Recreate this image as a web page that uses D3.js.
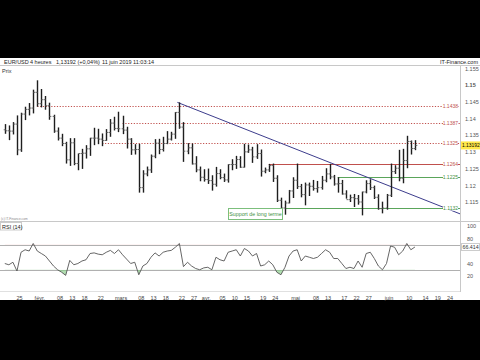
<!DOCTYPE html>
<html>
<head>
<meta charset="utf-8">
<script src="https://cdn.jsdelivr.net/npm/d3@7"></script>
<style>
  body { margin: 0; background: #000; }
  svg { display: block; font-family: "Liberation Sans", Arial, sans-serif; }
</style>
</head>
<body>
<svg id="chart" width="480" height="360"></svg>
<script>
// EUR/USD, one bar per trading day from 21 Jan 2019 to 11 Jun 2019
const opens = [
  1.1366, 1.1363, 1.1362, 1.1383, 1.1306, 1.1413, 1.1427, 1.1431, 1.1478, 1.1444,
  1.1456, 1.1438, 1.1406, 1.1362, 1.1341, 1.1325, 1.1276, 1.1327, 1.1265, 1.1295,
  1.1296, 1.1309, 1.1341, 1.1341, 1.1338, 1.1334, 1.1358, 1.1386, 1.1370, 1.1369,
  1.1365, 1.1338, 1.1306, 1.1307, 1.1193, 1.1234, 1.1246, 1.1287, 1.1326, 1.1307,
  1.1325, 1.1338, 1.1353, 1.1418, 1.1374, 1.1302, 1.1312, 1.1264, 1.1246, 1.1224,
  1.1217, 1.1214, 1.1203, 1.1235, 1.1223, 1.1216, 1.1262, 1.1262, 1.1277, 1.1254,
  1.1300, 1.1306, 1.1285, 1.1295, 1.1242, 1.1246, 1.1259, 1.1221, 1.1155, 1.1132,
  1.1147, 1.1183, 1.1215, 1.1196, 1.1172, 1.1201, 1.1197, 1.1190, 1.1193, 1.1215,
  1.1234, 1.1225, 1.1204, 1.1205, 1.1174, 1.1157, 1.1163, 1.1160, 1.1150, 1.1180,
  1.1205, 1.1193, 1.1164, 1.1130, 1.1132, 1.1170, 1.1241, 1.1251, 1.1221, 1.1274,
  1.1331, 1.1310
];
const highs = [
  1.1383, 1.1379, 1.1389, 1.1409, 1.1417, 1.1435, 1.1446, 1.1486, 1.1514, 1.1488,
  1.1467, 1.1447, 1.1411, 1.1373, 1.1354, 1.1330, 1.1341, 1.1341, 1.1295, 1.1309,
  1.1320, 1.1342, 1.1372, 1.1369, 1.1355, 1.1368, 1.1398, 1.1405, 1.1420, 1.1408,
  1.1375, 1.1341, 1.1323, 1.1324, 1.1245, 1.1256, 1.1292, 1.1338, 1.1339, 1.1345,
  1.1362, 1.1360, 1.1419, 1.1448, 1.1389, 1.1326, 1.1325, 1.1287, 1.1256, 1.1248,
  1.1250, 1.1230, 1.1255, 1.1248, 1.1235, 1.1263, 1.1278, 1.1288, 1.1287, 1.1324,
  1.1322, 1.1315, 1.1323, 1.1307, 1.1253, 1.1264, 1.1265, 1.1230, 1.1163, 1.1154,
  1.1186, 1.1224, 1.1265, 1.1204, 1.1208, 1.1208, 1.1216, 1.1213, 1.1228, 1.1251,
  1.1264, 1.1231, 1.1224, 1.1216, 1.1185, 1.1172, 1.1174, 1.1171, 1.1181, 1.1215,
  1.1218, 1.1199, 1.1173, 1.1151, 1.1174, 1.1265, 1.1260, 1.1306, 1.1309, 1.1348,
  1.1334, 1.1335
];
const lows = [
  1.1354, 1.1335, 1.1352, 1.1290, 1.1300, 1.1395, 1.1409, 1.1415, 1.1435, 1.1433,
  1.1426, 1.1396, 1.1357, 1.1334, 1.1317, 1.1265, 1.1258, 1.1260, 1.1245, 1.1249,
  1.1280, 1.1288, 1.1320, 1.1323, 1.1317, 1.1333, 1.1345, 1.1364, 1.1359, 1.1353,
  1.1310, 1.1291, 1.1292, 1.1178, 1.1178, 1.1227, 1.1237, 1.1281, 1.1293, 1.1301,
  1.1323, 1.1334, 1.1339, 1.1369, 1.1270, 1.1293, 1.1262, 1.1239, 1.1212, 1.1211,
  1.1204, 1.1184, 1.1196, 1.1218, 1.1210, 1.1208, 1.1245, 1.1249, 1.1252, 1.1253,
  1.1297, 1.1267, 1.1279, 1.1226, 1.1236, 1.1240, 1.1210, 1.1150, 1.1131, 1.1112,
  1.1146, 1.1162, 1.1189, 1.1164, 1.1140, 1.1168, 1.1184, 1.1178, 1.1187, 1.1209,
  1.1218, 1.1199, 1.1178, 1.1172, 1.1160, 1.1150, 1.1135, 1.1142, 1.1110, 1.1176,
  1.1186, 1.1159, 1.1127, 1.1116, 1.1127, 1.1165, 1.1234, 1.1212, 1.1206, 1.1251,
  1.1292, 1.1305
];
const closes = [
  1.1363, 1.1362, 1.1383, 1.1306, 1.1413, 1.1427, 1.1431, 1.1478, 1.1444, 1.1456,
  1.1438, 1.1406, 1.1362, 1.1341, 1.1325, 1.1276, 1.1327, 1.1265, 1.1295, 1.1296,
  1.1309, 1.1341, 1.1341, 1.1338, 1.1334, 1.1358, 1.1386, 1.1370, 1.1369, 1.1365,
  1.1338, 1.1306, 1.1307, 1.1193, 1.1234, 1.1246, 1.1287, 1.1326, 1.1307, 1.1325,
  1.1338, 1.1353, 1.1418, 1.1374, 1.1302, 1.1312, 1.1264, 1.1246, 1.1224, 1.1217,
  1.1214, 1.1203, 1.1235, 1.1223, 1.1216, 1.1262, 1.1262, 1.1277, 1.1254, 1.1300,
  1.1306, 1.1285, 1.1295, 1.1242, 1.1246, 1.1259, 1.1221, 1.1155, 1.1132, 1.1147,
  1.1183, 1.1215, 1.1196, 1.1172, 1.1201, 1.1197, 1.1190, 1.1193, 1.1215, 1.1234,
  1.1225, 1.1204, 1.1205, 1.1174, 1.1157, 1.1163, 1.1160, 1.1150, 1.1180, 1.1205,
  1.1193, 1.1164, 1.1130, 1.1132, 1.1170, 1.1241, 1.1251, 1.1221, 1.1274, 1.1331,
  1.1310, 1.13192
];
const rsi = [
  40, 38, 42, 28, 58, 62, 60, 72, 60, 56,
  52, 44, 36, 30, 26, 21, 45, 38, 40, 44,
  46, 56, 57, 55, 54, 58, 61, 56, 62, 54,
  47, 40, 42, 22, 36, 40, 50, 57, 52, 58,
  60, 61, 66, 72, 35, 42, 36, 32, 30, 33,
  34, 30, 50, 46, 44, 58, 60, 62, 52, 64,
  60, 52, 56, 36, 38, 44, 38, 26, 22, 34,
  52, 60, 62, 44, 52, 50, 48, 50, 56, 62,
  58, 48, 48, 40, 32, 34, 32, 44, 34, 56,
  58, 48, 36, 30, 40, 68, 66, 54, 60, 72,
  62, 66.414
];

const priceTicks = [1.115, 1.12, 1.125, 1.13, 1.135, 1.14, 1.145, 1.15, 1.155];
const rsiTicks = [20, 40, 80, 100];

const tickDates = ["2019-01-25", "2019-02-01", "2019-02-08", "2019-02-13", "2019-02-18", "2019-02-22",
  "2019-03-01", "2019-03-08", "2019-03-13", "2019-03-18", "2019-03-22", "2019-03-27",
  "2019-04-01", "2019-04-05", "2019-04-10", "2019-04-15", "2019-04-19", "2019-04-24",
  "2019-05-01", "2019-05-08", "2019-05-13", "2019-05-17", "2019-05-22", "2019-05-27",
  "2019-06-03", "2019-06-10", "2019-06-14", "2019-06-19", "2019-06-24"];
const tickLabels = ["25", "févr.", "08", "13", "18", "22", "mars", "08", "13", "18", "22", "27",
  "avr.", "05", "10", "15", "19", "24", "mai", "08", "13", "17", "22", "27",
  "juin", "10", "14", "19", "24"];

// horizontal levels drawn on the chart
const levelValues = [1.1438, 1.1387, 1.1325, 1.1264, 1.1225, 1.1132];
const levelLabels = ["1.1438", "1.1387", "1.1325", "1.1264", "1.1225", "1.1132"];
const levelStarts = ["2019-01-31", "2019-03-01", "2019-02-22", "2019-04-22", "2019-05-15", "2019-04-26"];
const levelKinds = ["dotted", "dotted", "dotted", "resistance", "support", "support"];

// bearish trend line from the 21 March top
const trendDates = ["2019-03-21", "2019-06-24"];
const trendPrices = [1.1448, 1.1127];

const lastPrice = 1.13192;
const lastRsi = 66.414;

const kindStyle = {
  dotted:     { stroke: "#c0504d", dash: "1.2,1.6", text: "#c0504d" },
  resistance: { stroke: "#c0504d", dash: null,      text: "#c0504d" },
  support:    { stroke: "#5aa55a", dash: null,      text: "#3f8f3f" }
};

// trading days (weekdays) used as the x positions
const tradingDays = d3.timeDay.range(new Date(2019, 0, 21), new Date(2019, 5, 29))
  .filter(d => d.getDay() !== 0 && d.getDay() !== 6);
const fmtDay = d3.timeFormat("%Y-%m-%d");
const dayIndex = new Map(tradingDays.map((d, i) => [fmtDay(d), i]));

const svg = d3.select("#chart");
const plotRight = 460;
const priceTop = 66, priceBottom = 217;
const rsiTop = 222, rsiBottom = 291;
const axisFont = "Liberation Sans, Arial, sans-serif";

svg.append("rect").attr("width", 480).attr("height", 360).attr("fill", "#000");
svg.append("rect").attr("y", 58).attr("width", 480).attr("height", 242).attr("fill", "#fff");

const x = d3.scaleLinear().domain([-0.68, 112.6]).range([0, plotRight]);
const y = d3.scaleLinear().domain([1.11051, 1.15568]).range([priceBottom, priceTop]);
const yR = d3.scaleLinear().domain([0, 100]).range([288.5, 226]);

const defs = svg.append("defs");
defs.append("clipPath").attr("id", "clipPrice").append("rect")
  .attr("x", 0).attr("y", priceTop).attr("width", plotRight).attr("height", priceBottom - priceTop);
defs.append("clipPath").attr("id", "clipLow").append("rect")
  .attr("x", 0).attr("y", yR(30)).attr("width", plotRight).attr("height", rsiBottom - yR(30));
defs.append("clipPath").attr("id", "clipHigh").append("rect")
  .attr("x", 0).attr("y", rsiTop).attr("width", plotRight).attr("height", yR(70) - rsiTop);

// frame lines
svg.append("line").attr("x1", 0).attr("x2", 480).attr("y1", 65.5).attr("y2", 65.5).attr("stroke", "#c8c8c8");
svg.append("line").attr("x1", 0).attr("x2", 480).attr("y1", 221.5).attr("y2", 221.5).attr("stroke", "#c8c8c8");
svg.append("line").attr("x1", 0).attr("x2", plotRight).attr("y1", rsiBottom + 0.5).attr("y2", rsiBottom + 0.5).attr("stroke", "#e0e0e0");
svg.append("line").attr("x1", plotRight + 0.5).attr("x2", plotRight + 0.5).attr("y1", 65.5).attr("y2", rsiBottom + 1).attr("stroke", "#c8c8c8");

// header
const header = svg.append("g").attr("font-size", 5.5).attr("fill", "#222");
header.append("text").attr("x", 4).attr("y", 63.5).text("EUR/USD");
header.append("text").attr("x", 30).attr("y", 63.5).text("4 heures");
header.append("text").attr("x", 56).attr("y", 63.5).text("1,13192 (+0,04%)");
header.append("text").attr("x", 102).attr("y", 63.5).text("11 juin 2019 11:03:14");
header.append("text").attr("x", 478).attr("y", 63.5).attr("text-anchor", "end").text("IT-Finance.com");
svg.append("text").attr("x", 2).attr("y", 72.5).attr("font-size", 5.5).attr("fill", "#333").text("Prix");

// price axis
const priceAxis = svg.append("g").attr("transform", `translate(${plotRight + 2},0)`)
  .call(d3.axisRight(y).tickValues(priceTicks).tickSize(0).tickFormat(d => String(+d.toFixed(3))));
priceAxis.select(".domain").remove();
priceAxis.selectAll("text").attr("font-size", 5.5).attr("fill", "#555").attr("font-family", axisFont)
  .attr("font-weight", d => d === 1.15 ? "bold" : null);

// horizontal levels
const priceLayer = svg.append("g").attr("clip-path", "url(#clipPrice)");
levelValues.forEach((v, i) => {
  const st = kindStyle[levelKinds[i]];
  priceLayer.append("line")
    .attr("x1", x(dayIndex.get(levelStarts[i]) + 0.5)).attr("x2", plotRight)
    .attr("y1", Math.round(y(v)) + 0.5).attr("y2", Math.round(y(v)) + 0.5)
    .attr("stroke", st.stroke).attr("stroke-width", 1)
    .attr("stroke-dasharray", st.dash);
});

// trend line, extended to the right edge
const trendIdx = trendDates.map(d => dayIndex.get(d));
const trendPrice = d3.scaleLinear().domain(trendIdx).range(trendPrices);
priceLayer.append("line")
  .attr("x1", x(trendIdx[0])).attr("y1", y(trendPrices[0]))
  .attr("x2", x(x.domain()[1])).attr("y2", y(trendPrice(x.domain()[1])))
  .attr("stroke", "#3c3c8c").attr("stroke-width", 1);

// OHLC bars
const bars = priceLayer.append("g").attr("stroke", "#1e1e1e").attr("fill", "none");
closes.forEach((c, i) => {
  const cx = Math.round(x(i + 0.5)) + 0.5;
  bars.append("path").attr("stroke-width", 1.4).attr("d",
    `M${cx},${y(highs[i])}V${y(lows[i])}`);
  bars.append("path").attr("stroke-width", 1).attr("stroke", "#666").attr("d",
    `M${cx - 1.8},${y(opens[i])}H${cx}` +
    `M${cx},${y(c)}H${cx + 1.8}`);
});

// level labels at the right end of the lines
levelValues.forEach((v, i) => {
  const st = kindStyle[levelKinds[i]];
  const g = svg.append("g").attr("transform", `translate(${plotRight - 2},${y(v)})`);
  g.append("rect").attr("x", -15).attr("y", -3.5).attr("width", 15).attr("height", 6).attr("fill", "#fff");
  g.append("text").attr("text-anchor", "end").attr("dy", 1.8).attr("font-size", 5)
    .attr("fill", st.text).text(levelLabels[i]);
});

// support annotation
const sup = svg.append("g").attr("transform", "translate(228,208)");
sup.append("rect").attr("x", 0.5).attr("y", 0.5).attr("width", 54).attr("height", 11)
  .attr("fill", "#fff").attr("stroke", "#7cbf7c");
sup.append("text").attr("x", 27.5).attr("y", 8).attr("text-anchor", "middle").attr("font-size", 5.3)
  .attr("fill", "#3f8f3f").text("Support de long terme");

// last price marker
const lp = svg.append("g").attr("transform", `translate(${plotRight + 1},${y(lastPrice)})`);
lp.append("rect").attr("x", 0).attr("y", -4).attr("width", 19).attr("height", 8).attr("fill", "#ffe84a");
lp.append("text").attr("x", 1).attr("dy", 1.8).attr("font-size", 4.9).attr("fill", "#000").text(lastPrice.toFixed(5));

// RSI panel
svg.append("text").attr("x", 1).attr("y", 219.5).attr("font-size", 3.2).attr("fill", "#888").text("(c) IT-Finance.com");
svg.append("rect").attr("x", 0.5).attr("y", 222.5).attr("width", 21).attr("height", 7.5)
  .attr("fill", "#fff").attr("stroke", "#ccc");
svg.append("text").attr("x", 2).attr("y", 228.5).attr("font-size", 5.5).attr("fill", "#222").text("RSI (14)");

[30, 70].forEach(v => {
  svg.append("line").attr("x1", 0).attr("x2", plotRight)
    .attr("y1", Math.round(yR(v)) + 0.5).attr("y2", Math.round(yR(v)) + 0.5)
    .attr("stroke", "#b0b0b0");
});

const rsiLine = d3.line().x((d, i) => x(i + 0.5)).y(d => yR(d));
svg.append("path").attr("clip-path", "url(#clipLow)")
  .attr("d", d3.area().x((d, i) => x(i + 0.5)).y0(yR(30)).y1(d => yR(d))(rsi))
  .attr("fill", "#8fcf8f").attr("opacity", 0.7);
svg.append("path").attr("clip-path", "url(#clipHigh)")
  .attr("d", d3.area().x((d, i) => x(i + 0.5)).y0(yR(70)).y1(d => yR(d))(rsi))
  .attr("fill", "#f0a0a0").attr("opacity", 0.6);
svg.append("path").datum(rsi).attr("d", rsiLine)
  .attr("fill", "none").attr("stroke", "#555").attr("stroke-width", 0.9);

const rsiAxis = svg.append("g").attr("transform", `translate(${plotRight + 4},0)`)
  .call(d3.axisRight(yR).tickValues(rsiTicks).tickSize(0));
rsiAxis.select(".domain").remove();
rsiAxis.selectAll("text").attr("font-size", 5.5).attr("fill", "#555").attr("font-family", axisFont);

const lr = svg.append("g").attr("transform", `translate(${plotRight + 1},${yR(lastRsi)})`);
lr.append("rect").attr("x", 0.5).attr("y", -3.5).attr("width", 18).attr("height", 7)
  .attr("fill", "#fff").attr("stroke", "#ccc");
lr.append("text").attr("x", 1.5).attr("dy", 2).attr("font-size", 5.3).attr("fill", "#333").text(lastRsi.toFixed(3));

// time axis
const timeAxis = svg.append("g").attr("transform", `translate(0,${rsiBottom + 2})`)
  .call(d3.axisBottom(x).tickValues(tickDates.map(d => dayIndex.get(d))).tickSize(0)
    .tickFormat((d, i) => tickLabels[i]));
timeAxis.select(".domain").remove();
timeAxis.selectAll("text").attr("font-size", 5.5).attr("fill", "#444").attr("font-family", axisFont);
</script>
</body>
</html>
